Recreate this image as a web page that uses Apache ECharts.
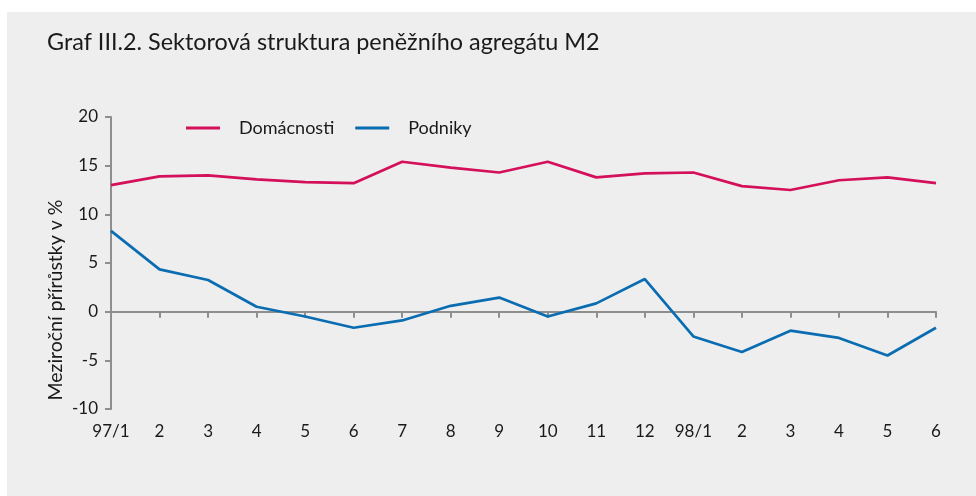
<!DOCTYPE html>
<html>
<head>
<meta charset="utf-8">
<script src="https://cdn.jsdelivr.net/npm/echarts@6/dist/echarts.min.js"></script>
<style>
html,body{margin:0;padding:0;background:#ffffff;}
#main{width:976px;height:496px;}
</style>
</head>
<body>
<div id="main"></div>
<script>
const categories = ['97/1','2','3','4','5','6','7','8','9','10','11','12','98/1','2','3','4','5','6'];
const domacnosti = [13.0, 13.9, 14.0, 13.6, 13.3, 13.2, 15.4, 14.8, 14.3, 15.4, 13.8, 14.2, 14.3, 12.9, 12.5, 13.5, 13.8, 13.2];
const podniky = [8.3, 4.35, 3.25, 0.5, -0.5, -1.65, -0.9, 0.6, 1.45, -0.5, 0.85, 3.35, -2.55, -4.15, -1.95, -2.7, -4.5, -1.65];
const yTicks = [-10, -5, 0, 5, 10, 15, 20];
const titleText = 'Graf III.2. Sektorová struktura peněžního agregátu M2';
const yAxisTitle = 'Meziroční přírůstky v %';

const FONT = 'Lato';
const axisGray = '#8e8e8e';
const chart = echarts.init(document.getElementById('main'), null, {renderer:'canvas'});
chart.setOption({
  backgroundColor: '#ffffff',
  animation: false,
  graphic: [
    {type:'rect', left:7, top:12, shape:{width:969, height:484}, style:{fill:'#eeeeee'}, z:-10},
    {type:'text', left:47, top:31, style:{text:titleText, font:'23.4px ' + FONT, fill:'#1a1a1a'}},
    {type:'text', x:56, y:300, rotation:Math.PI/2, style:{text:yAxisTitle, font:'19.5px ' + FONT, fill:'#1a1a1a', align:'center', verticalAlign:'middle'}}
  ],
  legend: {
    left: 181, top: 114,
    itemWidth: 34, itemHeight: 3, itemGap: 21,
    icon: 'rect',
    textStyle: {fontFamily: FONT, fontSize: 18, color:'#1a1a1a', padding:[0,0,0,14]},
    data: ['Domácnosti','Podniky']
  },
  grid: {left:111, right:40, top:117, bottom:87, containLabel:false},
  xAxis: {
    type:'category', data: categories, boundaryGap:false,
    axisLine:{lineStyle:{color:axisGray, width:2}},
    axisTick:{show:true, length:6, lineStyle:{color:axisGray, width:2}, alignWithLabel:true},
    axisLabel:{fontFamily:FONT, fontSize:17, color:'#1a1a1a', margin:14, interval:0},
    splitLine:{show:false}
  },
  yAxis: {
    type:'value', min: yTicks[0], max: yTicks[yTicks.length-1], interval: 5,
    axisLine:{show:true, lineStyle:{color:axisGray, width:2}},
    axisTick:{show:true, length:6, lineStyle:{color:axisGray, width:2}},
    axisLabel:{fontFamily:FONT, fontSize:17, color:'#1a1a1a', margin:13},
    splitLine:{show:false}
  },
  series: [
    {name:'Domácnosti', type:'line', data: domacnosti, symbol:'none',
     lineStyle:{color:'#d4105a', width:2.7}, itemStyle:{color:'#d4105a'}, z:3},
    {name:'Podniky', type:'line', data: podniky, symbol:'none',
     lineStyle:{color:'#0a6db2', width:2.7}, itemStyle:{color:'#0a6db2'}, z:3,
     markLine:{silent:true, symbol:['none','none'], label:{show:false},
       lineStyle:{color:axisGray, width:2, type:'solid'}, data:[{yAxis:0}], z:1}}
  ]
});
</script>
</body>
</html>
